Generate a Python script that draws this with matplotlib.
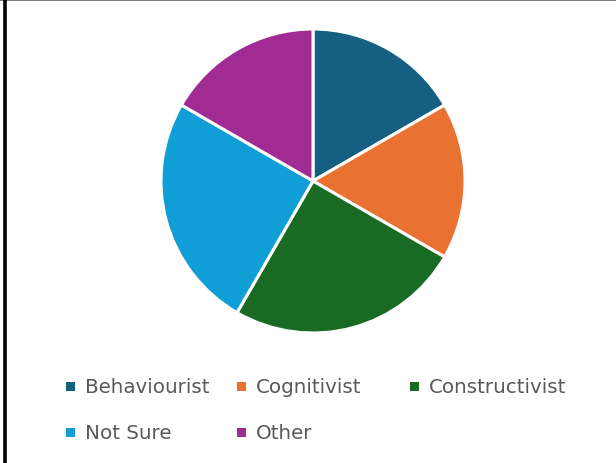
import matplotlib.pyplot as plt
from matplotlib.lines import Line2D
from matplotlib.patches import Rectangle

# Survey responses per learning theory
labels = ["Behaviourist", "Cognitivist", "Constructivist", "Not Sure", "Other"]
counts = [2, 2, 3, 3, 2]
colors = ["#156082", "#E97132", "#196B24", "#0F9ED5", "#A02B93"]

W, H = 616, 464
fig = plt.figure(figsize=(W / 100, H / 100), dpi=100)

# pie centred at (313, 182) px, radius ~152 px
cx, cy, r = 313, 182, 152
ax = fig.add_axes([(cx - r) / W, (H - cy - r) / H, 2 * r / W, 2 * r / H])
ax.pie(counts, colors=colors, startangle=90, counterclock=False,
       wedgeprops=dict(edgecolor="white", linewidth=2.2))
ax.set_aspect("equal")
ax.set_xlim(-1, 1)
ax.set_ylim(-1, 1)

# frame edges along top and left
fig.add_artist(Line2D([0, 1], [1 - 0.8 / H, 1 - 0.8 / H], color="#7f7f7f", lw=1.5,
                      transform=fig.transFigure))
fig.add_artist(Line2D([4.5 / W, 4.5 / W], [0, 1], color="black", lw=2.6,
                      transform=fig.transFigure))

# legend laid out row by row, three per row
col_x = [66, 237, 410]
row_y = [387, 433]
sq = 9
for i, (lab, c) in enumerate(zip(labels, colors)):
    x0 = col_x[i % 3]
    y0 = row_y[i // 3]
    fig.add_artist(Rectangle((x0 / W, 1 - (y0 + sq / 2) / H), sq / W, sq / H,
                             facecolor=c, edgecolor="none", transform=fig.transFigure))
    fig.text((x0 + 19) / W, 1 - (y0 + 6.5) / H, lab, fontsize=14.3,
             color="#595959", va="baseline", ha="left")

fig.savefig("out.png", dpi=100, facecolor="white")
